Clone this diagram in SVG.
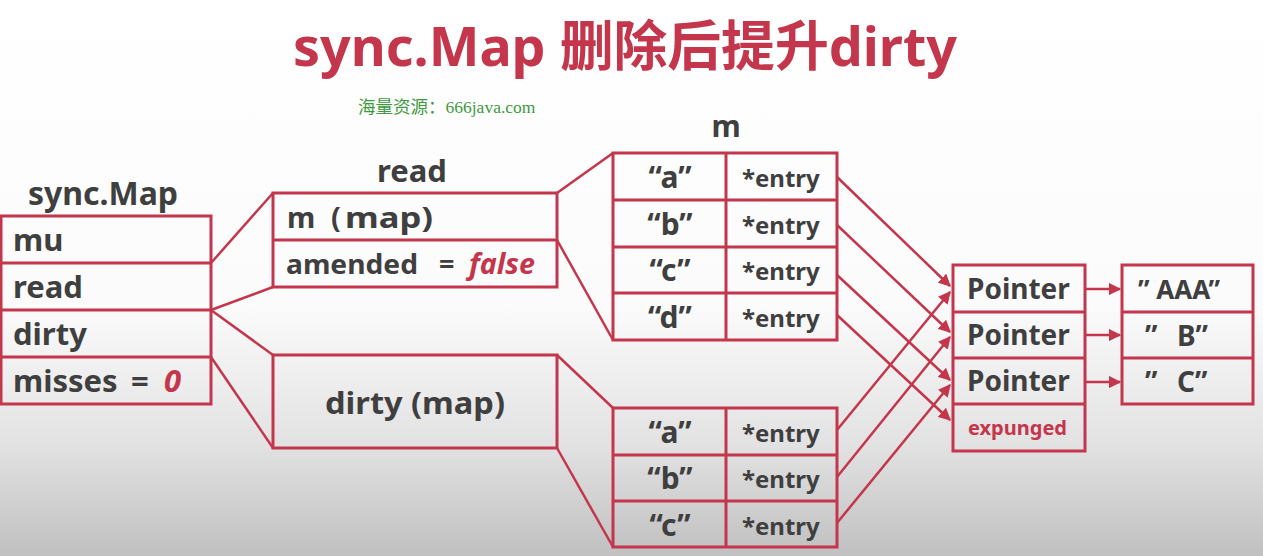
<svg xmlns="http://www.w3.org/2000/svg" width="1263" height="556" viewBox="0 0 1263 556">
<defs>
<linearGradient id="bg" x1="0" y1="0" x2="0" y2="1">
<stop offset="0" stop-color="#ffffff"/>
<stop offset="0.55" stop-color="#fbfbfb"/>
<stop offset="0.8" stop-color="#e2e2e2"/>
<stop offset="1" stop-color="#c0c0c0"/>
</linearGradient>
<marker id="ah" viewBox="0 0 10 10" refX="9" refY="5" markerWidth="5" markerHeight="5" orient="auto" markerUnits="strokeWidth">
<path d="M0,0 L10,5 L0,10 z" fill="#c3364c"/>
</marker>
<style>
.box{fill:none;stroke:#c3364c;stroke-width:3}
.ln{fill:none;stroke:#c3364c;stroke-width:2.5}
.ar{fill:none;stroke:#c3364c;stroke-width:2.5;marker-end:url(#ah)}
.t{font-family:"Noto Sans","Open Sans","Noto Sans CJK SC",sans-serif;font-weight:bold;fill:#3f3f3f}
.red{fill:#c3364c}
.it{font-style:italic}
.row{font-size:31px}
.lg{font-size:28px}
.q{font-size:30px}
.en{font-size:24px}
.c{text-anchor:middle}
</style>
</defs>
<rect width="1263" height="556" fill="url(#bg)"/>

<text x="293" y="66" class="t red" font-size="54" textLength="664" lengthAdjust="spacingAndGlyphs" font-family="'Noto Sans','Noto Sans CJK SC',sans-serif">sync.Map 删除后提升dirty</text>
<text x="358" y="113" font-family="'Liberation Serif','Noto Sans CJK SC',serif" font-size="17.5" fill="#3f9a3f">海量资源：666java.com</text>

<g id="syncmap">
<text x="103" y="205" class="t c" font-size="32">sync.Map</text>
<rect x="1" y="216" width="210" height="188" class="box"/>
<line x1="1" y1="263" x2="211" y2="263" class="box"/>
<line x1="1" y1="310" x2="211" y2="310" class="box"/>
<line x1="1" y1="357" x2="211" y2="357" class="box"/>
<text x="13" y="251" class="t row">mu</text>
<text x="13" y="298" class="t row">read</text>
<text x="13" y="345" class="t row">dirty</text>
<text x="13" y="392" class="t row">misses</text>
<text x="131" y="392" class="t row">=</text>
<text x="164" y="392" class="t row red it">0</text>
</g>

<g id="read">
<text x="412" y="182" class="t c" font-size="31">read</text>
<rect x="273" y="193" width="284" height="94" class="box"/>
<line x1="273" y1="240" x2="557" y2="240" class="box"/>
<text x="287" y="228" class="t" font-size="29">m</text>
<text x="331" y="228" class="t" font-size="29">(</text>
<text x="345" y="228" class="t" font-size="29" textLength="88" lengthAdjust="spacingAndGlyphs">map)</text>
<text x="286" y="274" class="t" font-size="27" textLength="132" lengthAdjust="spacingAndGlyphs">amended</text>
<text x="439" y="274" class="t" font-size="27">=</text>
<text x="469" y="274" class="t red it" font-size="28" textLength="66" lengthAdjust="spacingAndGlyphs">false</text>
</g>

<g id="dirtymap">
<rect x="273" y="355" width="284" height="93" class="box"/>
<text x="415" y="414" class="t c" font-size="31" textLength="180" lengthAdjust="spacingAndGlyphs">dirty (map)</text>
</g>

<g id="mtable">
<text x="726" y="137" class="t c" font-size="30">m</text>
<rect x="613" y="153" width="224" height="187" class="box"/>
<line x1="726" y1="153" x2="726" y2="340" class="box"/>
<line x1="613" y1="200" x2="837" y2="200" class="box"/>
<line x1="613" y1="247" x2="837" y2="247" class="box"/>
<line x1="613" y1="293" x2="837" y2="293" class="box"/>
<text x="670" y="188" class="t q c">“a”</text>
<text x="670" y="235" class="t q c">“b”</text>
<text x="670" y="281" class="t q c">“c”</text>
<text x="670" y="328" class="t q c">“d”</text>
<text x="742" y="187" class="t en">*entry</text>
<text x="742" y="234" class="t en">*entry</text>
<text x="742" y="280" class="t en">*entry</text>
<text x="742" y="327" class="t en">*entry</text>
</g>

<g id="dirtytable">
<rect x="613" y="408" width="224" height="139" class="box"/>
<line x1="726" y1="408" x2="726" y2="547" class="box"/>
<line x1="613" y1="455" x2="837" y2="455" class="box"/>
<line x1="613" y1="501" x2="837" y2="501" class="box"/>
<text x="670" y="443" class="t q c">“a”</text>
<text x="670" y="489" class="t q c">“b”</text>
<text x="670" y="536" class="t q c">“c”</text>
<text x="742" y="442" class="t en">*entry</text>
<text x="742" y="488" class="t en">*entry</text>
<text x="742" y="535" class="t en">*entry</text>
</g>

<g id="pointers">
<rect x="953" y="265" width="132" height="186" class="box"/>
<line x1="953" y1="312" x2="1085" y2="312" class="box"/>
<line x1="953" y1="358" x2="1085" y2="358" class="box"/>
<line x1="953" y1="404" x2="1085" y2="404" class="box"/>
<text x="967" y="299" class="t lg">Pointer</text>
<text x="967" y="345" class="t lg">Pointer</text>
<text x="967" y="391" class="t lg">Pointer</text>
<text x="968" y="435" class="t red" font-size="20">expunged</text>
</g>

<g id="values">
<rect x="1122" y="265" width="131" height="139" class="box"/>
<line x1="1122" y1="312" x2="1253" y2="312" class="box"/>
<line x1="1122" y1="358" x2="1253" y2="358" class="box"/>
<text x="1138" y="299" class="t" font-size="26">” AAA”</text>
<text x="1145" y="346" class="t lg">”</text>
<text x="1177" y="346" class="t lg">B”</text>
<text x="1145" y="392" class="t lg">”</text>
<text x="1177" y="392" class="t lg">C”</text>
</g>

<g id="connectors">
<line x1="211" y1="263" x2="273" y2="193" class="ln"/>
<line x1="211" y1="310" x2="273" y2="287" class="ln"/>
<line x1="211" y1="310" x2="273" y2="355" class="ln"/>
<line x1="211" y1="357" x2="273" y2="448" class="ln"/>
<line x1="557" y1="193" x2="613" y2="153" class="ln"/>
<line x1="557" y1="240" x2="613" y2="340" class="ln"/>
<line x1="557" y1="355" x2="613" y2="408" class="ln"/>
<line x1="557" y1="448" x2="613" y2="547" class="ln"/>
<line x1="837" y1="177" x2="950" y2="286" class="ar"/>
<line x1="837" y1="225" x2="950" y2="332" class="ar"/>
<line x1="837" y1="275" x2="950" y2="380" class="ar"/>
<line x1="837" y1="315" x2="950" y2="420" class="ar"/>
<line x1="837" y1="430" x2="950" y2="292" class="ar"/>
<line x1="837" y1="477" x2="950" y2="337" class="ar"/>
<line x1="837" y1="523" x2="950" y2="385" class="ar"/>
<line x1="1085" y1="289" x2="1120" y2="289" class="ar"/>
<line x1="1085" y1="335" x2="1120" y2="335" class="ar"/>
<line x1="1085" y1="382" x2="1120" y2="382" class="ar"/>
</g>
</svg>
